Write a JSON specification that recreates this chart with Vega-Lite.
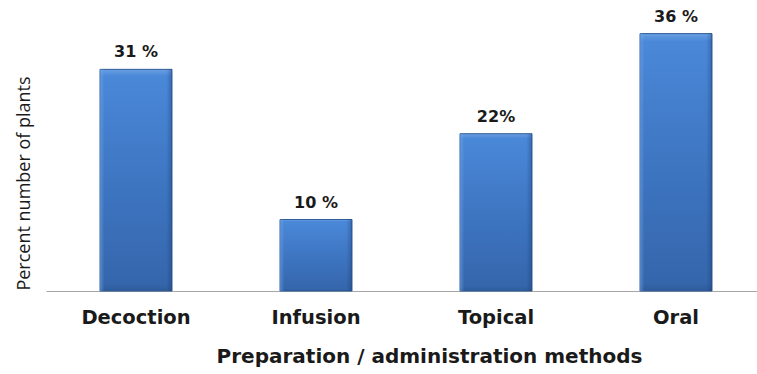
{
  "$schema": "https://vega.github.io/schema/vega-lite/v6.json",
  "width": 711,
  "height": 286,
  "autosize": {"type": "none"},
  "padding": {"left": 46, "top": 5, "right": 0, "bottom": 83},
  "background": "white",
  "config": {"view": {"stroke": null}},
  "data": {
    "values": [
      {"method": "Decoction", "percent": 31, "label": "31 %"},
      {"method": "Infusion", "percent": 10, "label": "10 %"},
      {"method": "Topical", "percent": 22, "label": "22%"},
      {"method": "Oral", "percent": 36, "label": "36 %"}
    ]
  },
  "encoding": {
    "x": {
      "field": "method",
      "type": "nominal",
      "sort": null,
      "scale": {"paddingInner": 0.6, "paddingOuter": 0.275, "align": 0.5455},
      "axis": {
        "title": "Preparation / administration methods",
        "titleFont": "DejaVu Sans",
        "titleFontWeight": "bold",
        "titleFontSize": 20,
        "titleColor": "#1a1a1a",
        "titleX": 383,
        "titleY": 71,
        "titleAlign": "center",
        "titleBaseline": "alphabetic",
        "labelAngle": 0,
        "labelFont": "DejaVu Sans",
        "labelFontWeight": "bold",
        "labelFontSize": 19.5,
        "labelColor": "#1a1a1a",
        "labelBaseline": "alphabetic",
        "labelPadding": 32,
        "ticks": false,
        "tickSize": 0,
        "domainColor": "#a6a6a6",
        "domainWidth": 1
      }
    },
    "y": {
      "field": "percent",
      "type": "quantitative",
      "scale": {"domain": [0, 40]},
      "axis": {
        "title": "Percent number of plants",
        "titleFont": "Open Sans",
        "titleFontWeight": "normal",
        "titleFontSize": 18,
        "titleColor": "#1a1a1a",
        "titleAngle": -90,
        "titleX": -22,
        "titleY": 178,
        "titleAlign": "center",
        "titleBaseline": "middle",
        "labels": false,
        "ticks": false,
        "domain": false,
        "grid": false
      }
    }
  },
  "layer": [
    {
      "mark": {
        "type": "bar",
        "stroke": "#2f5d98",
        "strokeWidth": 1,
        "color": {
          "gradient": "linear",
          "x1": 0, "y1": 0, "x2": 0, "y2": 1,
          "stops": [
            {"offset": 0, "color": "#6a9fe2"},
            {"offset": 0.03, "color": "#4a88d8"},
            {"offset": 0.5, "color": "#3e76c2"},
            {"offset": 0.97, "color": "#3566ac"},
            {"offset": 1, "color": "#2e5b98"}
          ]
        }
      }
    },
    {
      "mark": {
        "type": "bar",
        "color": {
          "gradient": "linear",
          "x1": 0, "y1": 0, "x2": 1, "y2": 0,
          "stops": [
            {"offset": 0, "color": "rgba(120,170,235,0.5)"},
            {"offset": 0.06, "color": "rgba(120,170,235,0)"},
            {"offset": 0.92, "color": "rgba(20,50,100,0)"},
            {"offset": 1, "color": "rgba(20,50,100,0.35)"}
          ]
        }
      }
    },
    {
      "mark": {
        "type": "text",
        "font": "DejaVu Sans",
        "fontWeight": "bold",
        "fontSize": 16,
        "color": "#1a1a1a",
        "baseline": "alphabetic",
        "dy": -12
      },
      "encoding": {"text": {"field": "label"}}
    }
  ]
}
